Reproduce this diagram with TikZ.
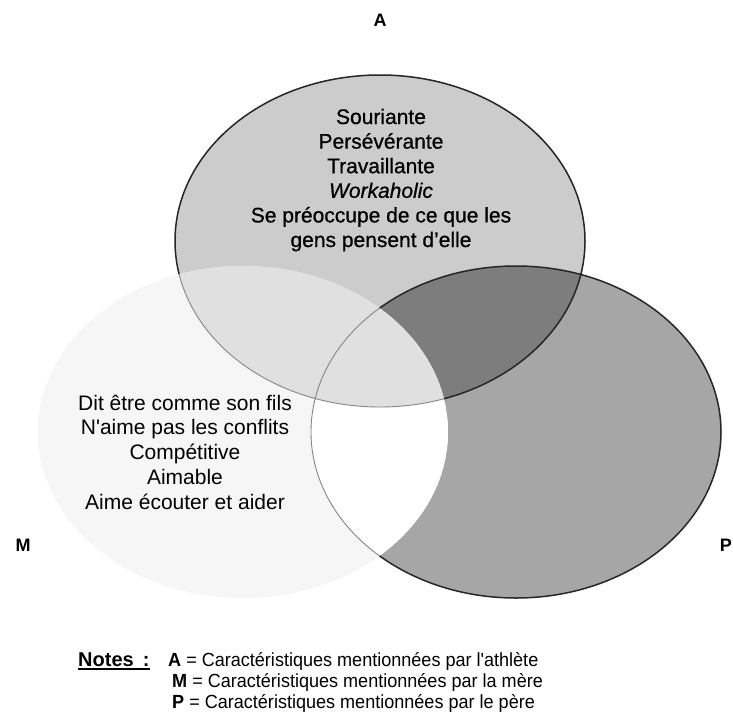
\documentclass[tikz,border=0pt]{standalone}
\usepackage{fontspec}
\newfontfamily\body{Liberation Sans}
\newfontfamily\heavybody[FakeBold=0.7]{Liberation Sans}
\newfontfamily\notefont[FakeStretch=0.95]{Liberation Sans}
\definecolor{fillA}{gray}{0.80}
\definecolor{fillP}{gray}{0.65}
\definecolor{fillAP}{gray}{0.49}
\definecolor{fillAM}{gray}{0.88}
\definecolor{fillM}{gray}{0.965}
\definecolor{rimdark}{gray}{0.15}
\definecolor{rimsoft}{gray}{0.52}
\begin{document}
\begin{tikzpicture}[x=1pt,y=-1pt,
  setlabel/.style={font=\body\fontsize{18}{18}\selectfont\bfseries, inner sep=0pt},
  trait/.style={font=\body\fontsize{21}{24}\selectfont, inner sep=0pt, anchor=base},
  boldtrait/.style={trait, font=\heavybody\fontsize{21}{24}\selectfont},
  note/.style={font=\notefont\fontsize{19}{22}\selectfont, inner sep=0pt, anchor=base west},
  notehead/.style={font=\body\fontsize{20}{22}\selectfont\bfseries, inner sep=0pt, anchor=base west},
  rim/.style={draw=rimdark, line width=1.5pt},
  softrim/.style={draw=rimsoft, line width=0.9pt}]
\def\shapeA{(380,241) ellipse [x radius=205, y radius=166]}
\def\shapeM{(243,432) ellipse [x radius=205, y radius=166]}
\def\shapeP{(516,432) ellipse [x radius=205, y radius=166]}
\fill[white] (0,0) rectangle (733,721);
\useasboundingbox (0,0) rectangle (733,721);
% athlete and father sets, with their overlap
\fill[fillA] \shapeA;
\fill[fillP] \shapeP;
\begin{scope}
  \clip \shapeA;
  \fill[fillAP] \shapeP;
\end{scope}
\path[rim] \shapeA;
\path[rim] \shapeP;
% mother set lightens everything it covers
\begin{scope}
  \clip \shapeM;
  \fill[fillM] \shapeM;
  \fill[white] \shapeP;
  \fill[fillAM] \shapeA;
  \path[softrim] \shapeA;
  \path[softrim] \shapeP;
\end{scope}
% set letters
\node[setlabel] (labA) at (380,20) {A};
\node[setlabel] (labM) at (23,545) {M};
\node[setlabel, anchor=east] (labP) at (732,545) {P};
% traits named by the athlete
\foreach \t [count=\i] in {Souriante, Persévérante, Travaillante, \textit{Workaholic}, Se préoccupe de ce que les, gens pensent d’elle}
  \node[boldtrait] (a\i) at (381, 99.4+24.6*\i) {\t};
% traits named by the mother
\foreach \t [count=\i] in {Dit être comme son fils, N'aime pas les conflits, Compétitive, Aimable, Aime écouter et aider}
  \node[trait] (m\i) at (185, 385.2+24.8*\i) {\t};
% legend
\node[notehead] (nh) at (78,666) {Notes\hspace{9pt}:};
\draw[line width=1.6pt] ([yshift=-3pt]nh.base west) -- ([yshift=-3pt]nh.base east);
\node[note] (n1) at (168,666) {\textbf{A} = Caractéristiques mentionnées par l'athlète};
\node[note] (n2) at (172,687) {\textbf{M} = Caractéristiques mentionnées par la mère};
\node[note] (n3) at (172,708) {\textbf{P} = Caractéristiques mentionnées par le père};
\end{tikzpicture}
\end{document}
